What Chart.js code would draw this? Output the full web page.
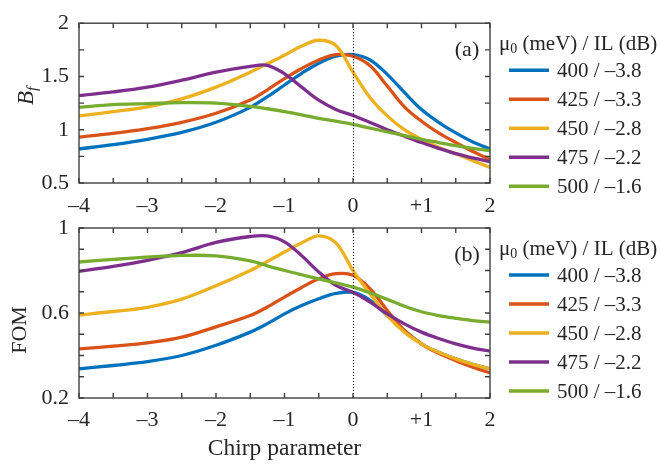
<!DOCTYPE html>
<html>
<head>
<meta charset="utf-8">
<script src="https://cdn.jsdelivr.net/npm/chart.js@4.4.0/dist/chart.umd.min.js"></script>
<style>
  html, body { margin: 0; padding: 0; background: #ffffff; }
  #wrap { position: relative; width: 661px; height: 466px; }
  canvas { position: absolute; left: 0; top: 0; }
</style>
</head>
<body>
<div id="wrap">
  <canvas id="cA" width="661" height="466"></canvas>
  <canvas id="cB" width="661" height="466"></canvas>
</div>
<script>
// ---- data ----
const chirp = [-4, -3.5, -3, -2.5, -2, -1.5, -1.25, -1, -0.75, -0.5, -0.25, 0, 0.25, 0.5, 0.75, 1, 1.25, 1.5, 1.75, 2];

const seriesLabels = ['400 / \u20133.8', '425 / \u20133.3', '450 / \u20132.8', '475 / \u20132.2', '500 / \u20131.6'];
const seriesColors = ['#0072BD', '#D95319', '#EDB120', '#7E2F8E', '#77AC30'];

// panel (a): B_f
const bf400 = [0.82, 0.86, 0.91, 0.975, 1.07, 1.21, 1.31, 1.42, 1.53, 1.625, 1.69, 1.705, 1.655, 1.52, 1.35, 1.19, 1.07, 0.97, 0.885, 0.82];
const bf425 = [0.93, 0.965, 1.01, 1.07, 1.155, 1.28, 1.375, 1.48, 1.575, 1.655, 1.705, 1.69, 1.60, 1.41, 1.215, 1.08, 0.97, 0.88, 0.795, 0.72];
const bf450 = [1.13, 1.17, 1.215, 1.29, 1.40, 1.54, 1.62, 1.70, 1.785, 1.84, 1.79, 1.54, 1.30, 1.13, 1.00, 0.91, 0.835, 0.775, 0.71, 0.645];
const bf475 = [1.32, 1.355, 1.40, 1.465, 1.54, 1.595, 1.605, 1.525, 1.40, 1.277, 1.19, 1.133, 1.068, 1.00, 0.94, 0.88, 0.825, 0.775, 0.735, 0.70];
const bf500 = [1.21, 1.235, 1.245, 1.254, 1.25, 1.22, 1.197, 1.17, 1.14, 1.107, 1.08, 1.05, 1.015, 0.98, 0.945, 0.91, 0.88, 0.85, 0.825, 0.805];

// panel (b): FOM
const fom400 = [0.337, 0.353, 0.371, 0.40, 0.448, 0.51, 0.55, 0.596, 0.635, 0.667, 0.692, 0.697, 0.66, 0.588, 0.518, 0.455, 0.415, 0.384, 0.358, 0.337];
const fom425 = [0.431, 0.444, 0.459, 0.486, 0.535, 0.588, 0.628, 0.675, 0.72, 0.761, 0.785, 0.778, 0.714, 0.612, 0.518, 0.455, 0.41, 0.376, 0.345, 0.318];
const fom450 = [0.591, 0.607, 0.627, 0.665, 0.728, 0.80, 0.843, 0.887, 0.93, 0.963, 0.93, 0.80, 0.69, 0.588, 0.51, 0.455, 0.415, 0.384, 0.358, 0.337];
const fom475 = [0.796, 0.819, 0.848, 0.884, 0.932, 0.96, 0.963, 0.935, 0.87, 0.793, 0.73, 0.697, 0.651, 0.596, 0.549, 0.51, 0.48, 0.455, 0.435, 0.42];
const fom500 = [0.84, 0.852, 0.863, 0.871, 0.869, 0.845, 0.822, 0.80, 0.78, 0.761, 0.742, 0.722, 0.695, 0.664, 0.632, 0.606, 0.588, 0.575, 0.564, 0.557];

const xTickValues = [-4, -3, -2, -1, 0, 1, 2];
const xTickLabels = ['\u20134', '\u20133', '\u20132', '\u20131', '0', '+1', '2'];
const bfTickValues = [0.5, 1, 1.5, 2];
const bfTickLabels = ['0.5', '1', '1.5', '2'];
const fomTickValues = [0.2, 0.6, 1];
const fomTickLabels = ['0.2', '0.6', '1'];

const legendTitleMain = '\u03BC';
const legendTitleSub = '0';
const legendTitleRest = ' (meV) / IL (dB)';
const xTitle = 'Chirp parameter';

// ---- styling ----
const SERIF = '"Liberation Serif", "Times New Roman", serif';
const TXT = '#262626';
const AX = '#404040';

function makeDatasets(arrs) {
  return arrs.map((arr, i) => ({
    label: seriesLabels[i],
    data: chirp.map((x, k) => ({ x: x, y: arr[k] })),
    borderColor: seriesColors[i],
    backgroundColor: seriesColors[i],
    borderWidth: 3.3,
    pointRadius: 0,
    fill: false,
    tension: 0.35,
    order: arrs.length - i
  }));
}

function labelFor(values, labels) {
  return function (v) {
    for (let i = 0; i < values.length; i++) {
      if (Math.abs(values[i] - v) < 1e-6) return labels[i];
    }
    return '';
  };
}

function framePlugin(opts) {
  return {
    id: 'frame' + opts.tag,
    afterDatasetsDraw(chart) {
      const ctx = chart.ctx;
      const a = chart.chartArea;
      const xs = chart.scales.x, ys = chart.scales.y;
      ctx.save();
      // dotted zero line
      ctx.strokeStyle = '#000000';
      ctx.lineWidth = 1;
      ctx.setLineDash([1, 2]);
      const x0 = Math.round(xs.getPixelForValue(0)) + 0.5;
      ctx.beginPath(); ctx.moveTo(x0, a.top); ctx.lineTo(x0, a.bottom); ctx.stroke();
      ctx.setLineDash([]);
      // box
      ctx.strokeStyle = AX;
      ctx.lineWidth = 1.4;
      ctx.strokeRect(a.left, a.top, a.right - a.left, a.bottom - a.top);
      // inward ticks
      const TL = 5;
      ctx.beginPath();
      for (let v = xs.min; v <= xs.max + 1e-9; v += opts.xMinor) {
        const p = xs.getPixelForValue(v);
        ctx.moveTo(p, a.bottom); ctx.lineTo(p, a.bottom - TL);
        ctx.moveTo(p, a.top); ctx.lineTo(p, a.top + TL);
      }
      for (let v = ys.min; v <= ys.max + 1e-9; v += opts.yMinor) {
        const p = ys.getPixelForValue(v);
        ctx.moveTo(a.left, p); ctx.lineTo(a.left + TL, p);
        ctx.moveTo(a.right, p); ctx.lineTo(a.right - TL, p);
      }
      ctx.stroke();
      // panel letter
      ctx.fillStyle = TXT;
      ctx.font = '22px ' + SERIF;
      ctx.textAlign = 'center';
      ctx.textBaseline = 'middle';
      ctx.fillText(opts.letter, a.right - 23, a.top + 27);
      // legend
      const lx = a.right + 9;
      ctx.textAlign = 'left';
      ctx.textBaseline = 'middle';
      ctx.font = '21px ' + SERIF;
      let ty = a.top + 21;
      let tx = lx;
      ctx.fillText(legendTitleMain, tx, ty);
      tx += ctx.measureText(legendTitleMain).width;
      ctx.font = '14px ' + SERIF;
      ctx.fillText(legendTitleSub, tx, ty + 5);
      tx += ctx.measureText(legendTitleSub).width;
      ctx.font = '21px ' + SERIF;
      ctx.fillText(legendTitleRest, tx, ty);
      chart.data.datasets.forEach((ds, i) => {
        const y = a.top + 47 + i * 29;
        ctx.strokeStyle = ds.borderColor;
        ctx.lineWidth = 3.5;
        ctx.beginPath(); ctx.moveTo(lx + 10, y); ctx.lineTo(lx + 50, y); ctx.stroke();
        ctx.fillStyle = TXT;
        ctx.fillText(ds.label, lx + 58, y + 1);
      });
      // y title
      ctx.save();
      ctx.translate(opts.yTitleX, opts.yTitleY);
      ctx.rotate(-Math.PI / 2);
      ctx.fillStyle = TXT;
      ctx.textBaseline = 'middle';
      if (opts.yTitleSub) {
        ctx.font = 'italic 23px ' + SERIF;
        const w1 = ctx.measureText(opts.yTitle).width;
        ctx.font = 'italic 15px ' + SERIF;
        const w2 = ctx.measureText(opts.yTitleSub).width;
        const start = -(w1 + w2) / 2;
        ctx.textAlign = 'left';
        ctx.font = 'italic 23px ' + SERIF;
        ctx.fillText(opts.yTitle, start, 0);
        ctx.font = 'italic 15px ' + SERIF;
        ctx.fillText(opts.yTitleSub, start + w1, 6);
      } else {
        ctx.textAlign = 'center';
        ctx.font = '22px ' + SERIF;
        ctx.fillText(opts.yTitle, 0, 0);
      }
      ctx.restore();
      if (opts.xTitle) {
        ctx.fillStyle = TXT;
        ctx.font = '23.5px ' + SERIF;
        ctx.textAlign = 'center';
        ctx.textBaseline = 'middle';
        ctx.fillText(opts.xTitle, (a.left + a.right) / 2, 449);
      }
      ctx.restore();
    }
  };
}

function makeChart(id, arrs, cfg) {
  return new Chart(document.getElementById(id), {
    type: 'line',
    data: { datasets: makeDatasets(arrs) },
    options: {
      responsive: false,
      animation: false,
      events: [],
      layout: { padding: { left: 0, right: 171, top: cfg.top, bottom: cfg.bottom } },
      plugins: { legend: { display: false }, tooltip: { enabled: false } },
      scales: {
        x: {
          type: 'linear', min: -4, max: 2,
          afterFit: s => { s.height = 40; },
          afterBuildTicks: s => { s.ticks = xTickValues.map(v => ({ value: v })); },
          grid: { display: true, drawOnChartArea: false, drawTicks: false },
          border: { display: false },
          ticks: { autoSkip: false, maxRotation: 0, padding: cfg.xPad, color: TXT,
                   font: { family: SERIF, size: 22 }, callback: labelFor(xTickValues, xTickLabels) }
        },
        y: {
          type: 'linear', min: cfg.ymin, max: cfg.ymax,
          afterFit: s => { s.width = 79; },
          afterBuildTicks: s => { s.ticks = cfg.yTicks.map(v => ({ value: v })); },
          grid: { display: true, drawOnChartArea: false, drawTicks: false },
          border: { display: false },
          ticks: { autoSkip: false, padding: 10, color: TXT,
                   font: { family: SERIF, size: 22 }, callback: labelFor(cfg.yTicks, cfg.yLabels) }
        }
      }
    },
    plugins: [framePlugin(cfg.frame)]
  });
}

makeChart('cA', [bf400, bf425, bf450, bf475, bf500], {
  top: 12, bottom: 466 - 183 - 40, ymin: 0.5, ymax: 2, xPad: 10,
  yTicks: bfTickValues, yLabels: bfTickLabels,
  frame: { tag: 'A', letter: '(a)', xMinor: 0.5, yMinor: 0.25, yTitle: 'B', yTitleSub: 'f', yTitleX: 27, yTitleY: 96 }
});
makeChart('cB', [fom400, fom425, fom450, fom475, fom500], {
  top: 228, bottom: 466 - 398 - 40, ymin: 0.2, ymax: 1, xPad: 9,
  yTicks: fomTickValues, yLabels: fomTickLabels,
  frame: { tag: 'B', letter: '(b)', xMinor: 0.5, yMinor: 0.1, yTitle: 'FOM', yTitleX: 20, yTitleY: 330, xTitle: xTitle }
});
</script>
</body>
</html>
